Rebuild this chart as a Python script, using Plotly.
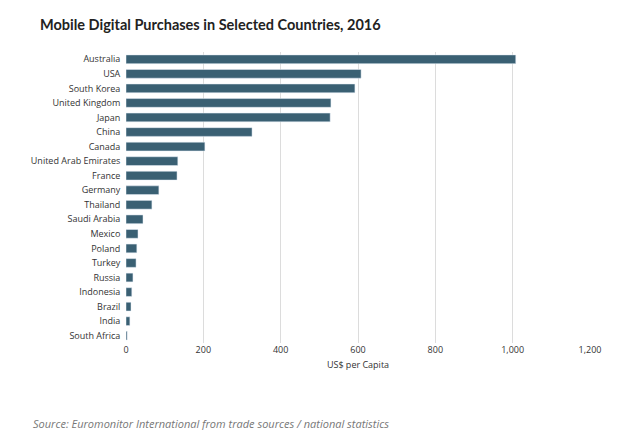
import plotly.graph_objects as go

countries = ["Australia","USA","South Korea","United Kingdom","Japan","China","Canada",
             "United Arab Emirates","France","Germany","Thailand","Saudi Arabia","Mexico",
             "Poland","Turkey","Russia","Indonesia","Brazil","India","South Africa"]
values = [1008,608,592,530,528,326,204,134,132,85,67,44,31,28,26,18,15,13,10,3]
tickvals = [0,200,400,600,800,1000,1200]
ticktext = ["0","200","400","600","800","1,000","1,200"]

fig = go.Figure(go.Bar(x=values, y=countries, orientation="h",
                       marker_color="#3a6073", width=0.6))
fig.update_layout(
    width=636, height=430, plot_bgcolor="white", paper_bgcolor="white",
    margin=dict(l=118, r=54, t=44, b=95),
    font=dict(family="Open Sans, Lato, sans-serif", size=9, color="#333"),
    showlegend=False,
    xaxis=dict(range=[0,1200], tickvals=tickvals, ticktext=ticktext,
               showgrid=True, gridcolor="#dcdcdc", zeroline=False,
               title=dict(text="US$ per Capita", font=dict(size=9), standoff=6),
               ticks="", showline=False),
    yaxis=dict(autorange="reversed", ticks="", showgrid=False, ticksuffix="  "),
)
fig.add_annotation(text="<b>Mobile Digital Purchases in Selected Countries, 2016</b>",
                   xref="paper", yref="paper", x=-0.19, y=1.0, yshift=28,
                   xanchor="left", yanchor="middle", showarrow=False,
                   font=dict(size=14.5, color="#222", family="Lato, Open Sans, sans-serif"))
fig.add_annotation(text="<i>Source: Euromonitor International from trade sources / national statistics</i>",
                   xref="paper", yref="paper", x=-0.205, y=0, yshift=-80,
                   xanchor="left", yanchor="middle", showarrow=False,
                   font=dict(size=11, color="#777"))
fig.write_html("out.html")
